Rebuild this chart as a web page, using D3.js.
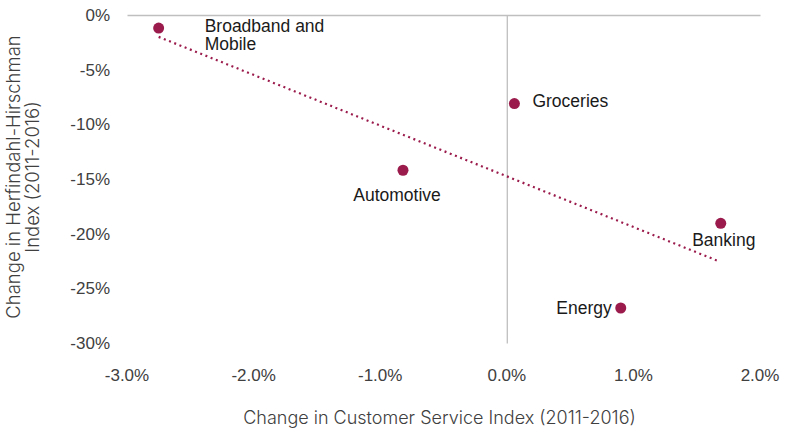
<!DOCTYPE html>
<html>
<head>
<meta charset="utf-8">
<script src="https://cdn.jsdelivr.net/npm/d3@7"></script>
<style>
  html, body { margin: 0; padding: 0; background: #fff; }
  svg { display: block; }
</style>
</head>
<body>
<svg id="chart" width="788" height="432"></svg>
<script>
// ---- Data ----
const categories = ["Broadband and Mobile", "Groceries", "Automotive", "Banking", "Energy"];
const serviceChange = [-2.75, 0.06, -0.82, 1.69, 0.90];      // x, %
const hhiChange = [-1.2, -8.1, -14.2, -19.05, -26.8];        // y, %
const trendX = [-2.75, 1.67];
const trendY = [-2.0, -22.5];
const xTicks = [-3, -2, -1, 0, 1, 2];
const yTicks = [0, -5, -10, -15, -20, -25, -30];

// ---- Layout ----
const svg = d3.select("#chart");
const plot = { left: 127, right: 760, top: 15, bottom: 343 };
const x = d3.scaleLinear().domain([-3, 2]).range([plot.left, plot.right]);
const y = d3.scaleLinear().domain([0, -30]).range([plot.top, plot.bottom]);
const color = "#9b1c4c";
const tickFont = "'Liberation Sans', Arial, sans-serif";
const titleFont = "Inter, 'Liberation Sans', sans-serif";
const hy = s => s.replace("\u2212", "-");

// Axis lines (y=0 at top, x=0 vertical)
const xAxis = d3.axisTop(x).tickValues([]).tickSize(0);
svg.append("g").attr("transform", `translate(0,${y(0)})`).call(xAxis)
  .select(".domain").attr("stroke", "#bfbfbf").attr("stroke-width", 1.3);
const yAxis = d3.axisLeft(y).tickValues([]).tickSize(0);
svg.append("g").attr("transform", `translate(${x(0)},0)`).call(yAxis)
  .select(".domain").attr("stroke", "#bfbfbf").attr("stroke-width", 1.3);

// Tick labels
svg.append("g").selectAll("text").data(yTicks).join("text")
  .attr("x", plot.left - 17).attr("y", d => y(d)).attr("dy", "0.35em")
  .attr("text-anchor", "end").attr("font-family", tickFont).attr("font-size", 17)
  .attr("fill", "#404040").text(d => d + "%");
svg.append("g").selectAll("text").data(xTicks).join("text")
  .attr("x", d => x(d)).attr("y", 375).attr("dy", "0.35em")
  .attr("text-anchor", "middle").attr("font-family", tickFont).attr("font-size", 17)
  .attr("fill", "#404040").text(d => hy(d3.format(".1f")(d)) + "%");

// Axis titles
svg.append("text").attr("x", (plot.left + plot.right) / 2 - 4).attr("y", 418).attr("dy", "0.35em")
  .attr("text-anchor", "middle").attr("font-family", titleFont).attr("font-size", 18)
  .attr("font-weight", 300)
  .attr("fill", "#404040").text("Change in Customer Service Index (2011-2016)");
const yt = svg.append("text").attr("transform", "translate(14,177) rotate(-90)")
  .attr("text-anchor", "middle").attr("font-family", titleFont).attr("font-size", 18.5)
  .attr("font-weight", 300)
  .attr("fill", "#404040");
yt.append("tspan").attr("x", 0).attr("y", 0).attr("dy", "0.35em").text("Change in Herfindahl-Hirschman");
yt.append("tspan").attr("x", 0).attr("y", 19).attr("dy", "0.35em").text("Index (2011-2016)");

// Trend line
const trend = trendX.map((v, i) => [v, trendY[i]]);
svg.append("path").datum(trend)
  .attr("d", d3.line().x(d => x(d[0])).y(d => y(d[1])))
  .attr("fill", "none").attr("stroke", color).attr("stroke-width", 2.2)
  .attr("stroke-dasharray", "2,3.6");

// Points
const pts = categories.map((c, i) => ({ c, x: serviceChange[i], y: hhiChange[i] }));
svg.append("g").selectAll("circle").data(pts).join("circle")
  .attr("cx", d => x(d.x)).attr("cy", d => y(d.y)).attr("r", 5.5).attr("fill", color);

// Point labels (offsets relative to the point)
const labelOffsets = {
  "Broadband and Mobile": { dx: 46, dy: -2, anchor: "start", lines: ["Broadband and", "Mobile"] },
  "Groceries": { dx: 18, dy: -3, anchor: "start", lines: ["Groceries"] },
  "Automotive": { dx: -6, dy: 25, anchor: "middle", lines: ["Automotive"] },
  "Banking": { dx: 3, dy: 17, anchor: "middle", lines: ["Banking"] },
  "Energy": { dx: -9, dy: 0, anchor: "end", lines: ["Energy"] }
};
const lab = svg.append("g").selectAll("text").data(pts).join("text")
  .attr("font-family", tickFont).attr("font-size", 17.5).attr("fill", "#1a1a1a")
  .attr("text-anchor", d => labelOffsets[d.c].anchor)
  .attr("transform", d => `translate(${x(d.x) + labelOffsets[d.c].dx},${y(d.y) + labelOffsets[d.c].dy})`);
lab.each(function(d) {
  d3.select(this).selectAll("tspan").data(labelOffsets[d.c].lines).join("tspan")
    .attr("x", 0).attr("y", (l, i) => i * 18).attr("dy", "0.35em").text(l => l);
});
</script>
</body>
</html>
